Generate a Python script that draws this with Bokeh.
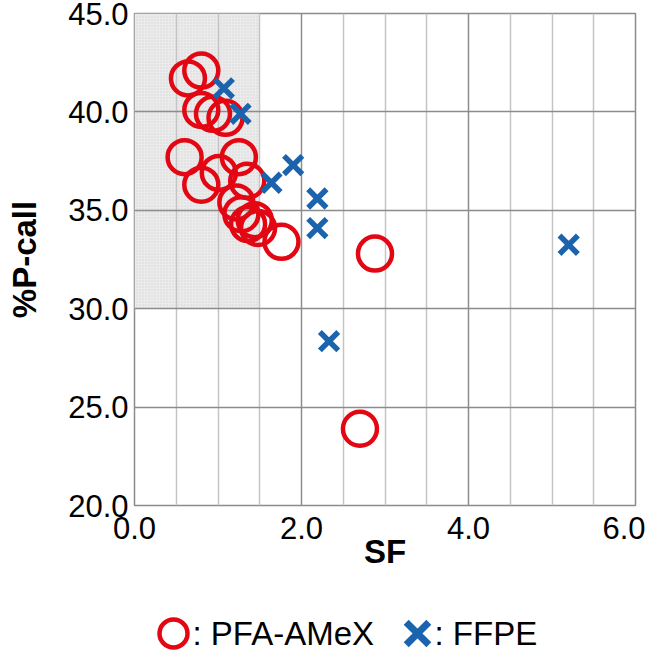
from bokeh.plotting import figure
from bokeh.models import FixedTicker, NumeralTickFormatter, Range1d
from bokeh.layouts import column
from bokeh.embed import file_html
from bokeh.resources import INLINE
from bokeh.core.properties import value

# ---- data ----
pfa_sf = [0.80, 0.64, 0.80, 0.94, 1.09, 0.60, 0.80, 1.01, 1.25, 1.35, 1.22,
          1.28, 1.36, 1.44, 1.48, 1.76, 2.88, 2.70]
pfa_pcall = [42.1, 41.7, 40.1, 39.9, 39.7, 37.7, 36.3, 36.9, 37.7, 36.5, 35.4,
             34.8, 34.3, 34.5, 34.1, 33.4, 32.8, 23.9]
ffpe_sf = [1.07, 1.27, 1.64, 1.90, 2.19, 2.19, 2.33, 5.20]
ffpe_pcall = [41.2, 39.9, 36.4, 37.3, 35.6, 34.1, 28.35, 33.25]
x_ticks = [0, 2, 4, 6]
x_minor = [0.5, 1.0, 1.5, 2.5, 3.0, 3.5, 4.5, 5.0, 5.5]
y_ticks = [20, 25, 30, 35, 40, 45]
shade_x = [0, 1.5]
shade_y = [30, 45]
legend_labels = [": PFA-AMeX", ": FFPE"]

RED = "#e30613"
BLUE = "#1b64ad"
FONT = "Liberation Sans"

p = figure(width=645, height=588, x_range=Range1d(0, 6), y_range=Range1d(20, 45),
           output_backend="svg", toolbar_location=None,
           min_border_left=134, min_border_right=10, min_border_top=13,
           min_border_bottom=83)
p.frame_align = False
p.background_fill_color = "white"
p.outline_line_color = "#8c8c8c"
p.outline_line_width = 1.5

# shaded region under the grid
p.quad(left=shade_x[0], right=shade_x[1], bottom=shade_y[0], top=shade_y[1],
       fill_color="#ebebeb", line_color=None, hatch_pattern="dot",
       hatch_color="#d6d6d6", hatch_scale=3, level="image")

# axes
for ax in (p.xaxis[0], p.yaxis[0]):
    ax.axis_line_color = None
    ax.major_tick_line_color = None
    ax.minor_tick_line_color = None
    ax.major_label_text_font = FONT
    ax.major_label_text_font_size = "31px"
    ax.major_label_text_color = "black"
    ax.axis_label_text_font = FONT
    ax.axis_label_text_font_size = "33px"
    ax.axis_label_text_font_style = "bold"
    ax.axis_label_text_color = "black"
    ax.formatter = NumeralTickFormatter(format="0.0")

p.xaxis.ticker = FixedTicker(ticks=x_ticks, minor_ticks=x_minor)
p.yaxis.ticker = FixedTicker(ticks=y_ticks)
p.xaxis.axis_label = "SF"
p.yaxis.axis_label = "%P-call"
p.xaxis.major_label_standoff = 5
p.xaxis.axis_label_standoff = -9
p.yaxis.major_label_standoff = 0
p.yaxis.axis_label_standoff = 22

p.xgrid.grid_line_color = "#8c8c8c"
p.xgrid.grid_line_width = 1.5
p.xgrid.minor_grid_line_color = "#c4c4c4"
p.xgrid.minor_grid_line_width = 1.5
p.ygrid.grid_line_color = "#8c8c8c"
p.ygrid.grid_line_width = 1.5

p.scatter(pfa_sf, pfa_pcall, marker="circle", size=34, fill_color=None,
          line_color=RED, line_width=4.5)
p.scatter(ffpe_sf, ffpe_pcall, marker="x", size=26, line_color=BLUE, line_width=5.5)

# legend strip (x, y in pixels of this strip)
lg = figure(width=645, height=64, x_range=Range1d(0, 645), y_range=Range1d(64, 0),
            output_backend="svg", toolbar_location=None,
            min_border=0, min_border_left=0, min_border_right=0,
            min_border_top=0, min_border_bottom=0)
lg.frame_align = False
lg.axis.visible = False
lg.grid.visible = False
lg.outline_line_color = None
lg.scatter([173], [45], marker="circle", size=28, fill_color=None,
           line_color=RED, line_width=4.5)
lg.scatter([417], [45], marker="x", size=32, line_color=BLUE, line_width=7)
lg.text([192, 434], [45, 45], text=legend_labels, text_font=value(FONT),
        text_font_size="33px", text_baseline="middle", text_align="left",
        text_color="black")

layout = column(p, lg, spacing=0)
open("out.html", "w").write(file_html(layout, INLINE))
